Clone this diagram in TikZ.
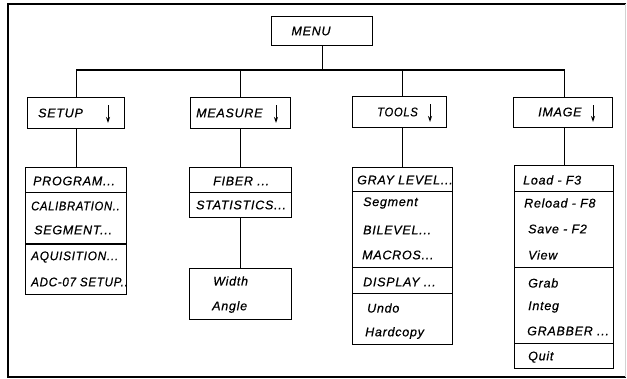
\documentclass[tikz,border=0pt]{standalone}
\usepackage{fontspec}
\newfontfamily\lab{Liberation Sans}[LetterSpace=6,FakeBold=0.6]
\usetikzlibrary{arrows.meta}
\begin{document}
\begin{tikzpicture}[x=1pt,y=-1pt,
  box/.style={draw, line width=1.1pt, inner sep=0pt, anchor=north west},
  txt/.style={anchor=west, inner sep=0pt, font=\lab\itshape\fontsize{12.5}{13}\selectfont},
  ctxt/.style={anchor=center, inner sep=0pt, font=\lab\itshape\fontsize{12.5}{13}\selectfont},
  conn/.style={line width=1.1pt},
  divl/.style={line width=1pt},
  downarr/.style={line width=1pt, -{Stealth[length=6pt,width=4pt]}},
  frame/.style={line width=2pt}
]
\useasboundingbox (0,0) rectangle (627,378);
% frame
\draw[frame] (626,4) -- (7.5,4) -- (7.5,377) -- (626,377);
\draw[gray!35, line width=1pt] (625,4) -- (625,377);

% top box
\node[box, minimum width=101pt, minimum height=29pt] (menu) at (271,16) {};
\node[ctxt] (menut) at (311,31) {MENU};

% level 2 boxes
\node[box, minimum width=97pt, minimum height=31pt] (setup) at (27,97) {};
\node[box, minimum width=100pt, minimum height=31pt] (measure) at (190,97) {};
\node[box, minimum width=94pt, minimum height=31pt] (tools) at (352,96) {};
\node[box, minimum width=99pt, minimum height=30pt] (image) at (513,97) {};

\node[txt] (setupt) at (38,113) {SETUP};
\node[txt] (measuret) at (196,113) {MEASURE};
\node[txt] (toolst) at (377,112) {\scalebox{0.9}[1]{TOOLS}};
\node[txt] (imaget) at (538,112) {IMAGE};

\coordinate (a1s) at (108,105); \coordinate (a1e) at (108,123);
\coordinate (a2s) at (276,105); \coordinate (a2e) at (276,123);
\coordinate (a3s) at (430,104); \coordinate (a3e) at (430,122);
\coordinate (a4s) at (593,105); \coordinate (a4e) at (593,122);
\draw[downarr] (a1s) -- (a1e);
\draw[downarr] (a2s) -- (a2e);
\draw[downarr] (a3s) -- (a3e);
\draw[downarr] (a4s) -- (a4e);

% list boxes
\node[box, minimum width=101pt, minimum height=127pt] (setupl) at (25,167) {};
\node[box, minimum width=102pt, minimum height=50pt] (measl) at (189,167) {};
\node[box, minimum width=102pt, minimum height=51pt] (widthl) at (189,268) {};
\node[box, minimum width=100pt, minimum height=177pt] (toolsl) at (352,167) {};
\node[box, minimum width=99pt, minimum height=203pt] (imagel) at (514,165) {};

% bus
\coordinate (bus) at (320,70);
\draw[conn] (menu.south) -- (menu.south |- bus);
\draw[conn] (setup.north) -- (setup.north |- bus) -- (imagel.north |- bus) -- (imagel.north |- image.north);
\draw[conn] (measure.north) -- (measure.north |- bus);
\draw[conn] (toolsl.north |- tools.north) -- (toolsl.north |- bus);

\draw[conn] (setup.south) -- (setupl.north);
\draw[conn] (measure.south) -- (measl.north);
\draw[conn] (measl.south) -- (widthl.north);
\draw[conn] (toolsl.north |- tools.south) -- (toolsl.north);
\draw[conn] (imagel.north |- image.south) -- (imagel.north);

% dividers
\draw[divl] (setupl.west |- 0,192) -- (setupl.east |- 0,192);
\draw[line width=2pt] (setupl.west |- 0,244) -- (setupl.east |- 0,244);
\draw[divl] (measl.west |- 0,192) -- (measl.east |- 0,192);
\draw[divl] (toolsl.west |- 0,191) -- (toolsl.east |- 0,191);
\draw[divl] (toolsl.west |- 0,267) -- (toolsl.east |- 0,267);
\draw[divl] (toolsl.west |- 0,293) -- (toolsl.east |- 0,293);
\draw[divl] (imagel.west |- 0,191) -- (imagel.east |- 0,191);
\draw[divl] (imagel.west |- 0,267) -- (imagel.east |- 0,267);
\draw[divl] (imagel.west |- 0,343) -- (imagel.east |- 0,343);

% setup items
\node[txt] (s1) at (33,181) {PROGRAM...};
\node[txt] (s2) at (31,206) {\scalebox{0.9}[1]{CALIBRATION..}};
\node[txt] (s3) at (34,230) {SEGMENT...};
\node[txt] (s4) at (31,257) {\scalebox{0.95}[1]{AQUISITION...}};
\node[txt] (s5) at (31,282) {\scalebox{0.93}[1]{ADC-07 SETUP..}};

% measure items
\node[txt] (m1) at (213,181) {FIBER ...};
\node[txt] (m2) at (196,205) {STATISTICS...};
\node[txt] (w1) at (213,281) {Width};
\node[txt] (w2) at (212,307) {Angle};

% tools items
\node[txt] (t1) at (357,180) {GRAY LEVEL...};
\node[txt] (t2) at (363,203) {Segment};
\node[txt] (t3) at (363,230) {BILEVEL...};
\node[txt] (t4) at (362,255) {MACROS...};
\node[txt] (t5) at (363,282) {DISPLAY ...};
\node[txt] (t6) at (367,308) {Undo};
\node[txt] (t7) at (365,333) {Hardcopy};

% image items
\node[txt] (i1) at (523,180) {Load - F3};
\node[txt] (i2) at (524,203) {Reload - F8};
\node[txt] (i3) at (528,229) {Save - F2};
\node[txt] (i4) at (528,255) {View};
\node[txt] (i5) at (528,283) {Grab};
\node[txt] (i6) at (528,307) {Integ};
\node[txt] (i7) at (527,331) {GRABBER ...};
\node[txt] (i8) at (528,357) {Quit};
\end{tikzpicture}
\end{document}
